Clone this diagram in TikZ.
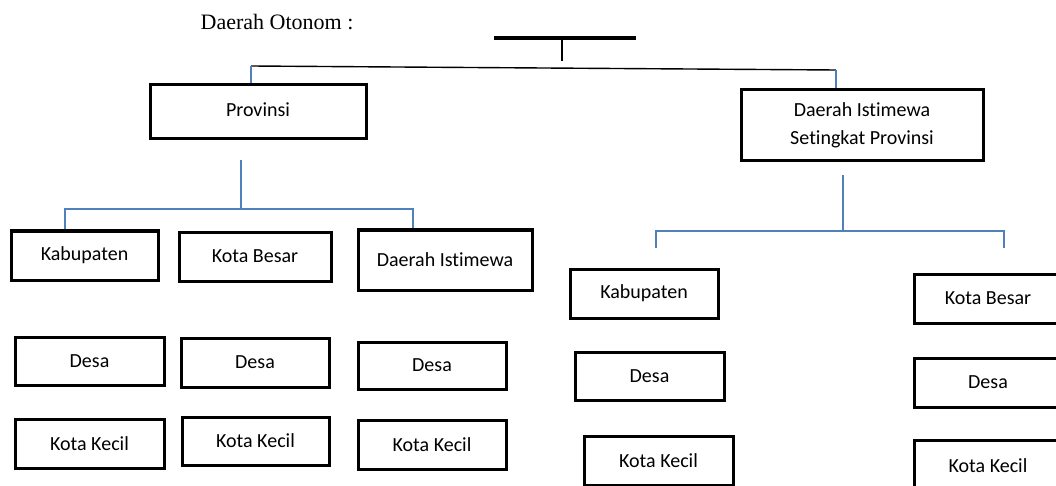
\documentclass[tikz,border=0pt]{standalone}
\usepackage{fontspec}
\setmainfont{Liberation Serif}
\newfontfamily\boxfont[Ligatures=NoCommon]{Carlito}
\usepackage{xcolor}
\definecolor{wordblue}{RGB}{79,129,189}
\tikzset{
	unit box/.style={draw,line width=3pt,inner sep=0pt,align=center,
		font=\boxfont\fontsize{20}{28}\selectfont},
	blue link/.style={draw=wordblue,line width=1.5pt},
	black link/.style={draw=black,line width=1.4pt}
}

\begin{document}
\begin{tikzpicture}[x=1pt,y=-1pt]
	\clip (0,0) rectangle (1056,486);
	\node [font=\fontsize{22}{26}\selectfont] (title) at (277,22) {Daerah Otonom :};
	% top bar
	\coordinate (barl) at (494,38);
	\coordinate (barr) at (636,38);
	\coordinate (barm) at (562,40);
	\coordinate (barf) at (562,61);
	\draw [line width=4pt] (barl) -- (barr);
	\draw [black link] (barm) -- (barf);
	% first level
	\node [unit box,minimum width=216,minimum height=54] (prov) at (258,112) {\raisebox{5pt}{Provinsi}};
	\node [unit box,minimum width=242,minimum height=71] (dis) at (862,125.5) {Daerah Istimewa\\Setingkat Provinsi};
	\coordinate (jl) at (251,66);
	\coordinate (jr) at (836,70);
	\draw [black link] (jl) -- (jr);
	\draw [blue link] (jl) -- (jl |- prov.north);
	\draw [blue link] (jr) -- (jr |- dis.north);
	% left branch
	\node [unit box,minimum width=147,minimum height=49] (kab1) at (84.5,255.5) {Kabupaten};
	\node [unit box,minimum width=152,minimum height=49] (kb1) at (255,256.5) {Kota Besar};
	\node [unit box,minimum width=174,minimum height=60] (di1) at (445,260) {Daerah Istimewa};
	\node [unit box,minimum width=149,minimum height=48] (desa1) at (89.5,361) {Desa};
	\node [unit box,minimum width=148,minimum height=49] (desa2) at (255,362.5) {Desa};
	\node [unit box,minimum width=148,minimum height=47] (desa3) at (432,365.5) {Desa};
	\node [unit box,minimum width=149,minimum height=49] (kk1) at (89.5,443.5) {Kota Kecil};
	\node [unit box,minimum width=147,minimum height=48] (kk2) at (255.5,441) {Kota Kecil};
	\node [unit box,minimum width=148,minimum height=49] (kk3) at (432,444.5) {Kota Kecil};
	\coordinate (ls) at (241,160);
	\coordinate (lm) at (241,209);
	\coordinate (la) at (65,209);
	\coordinate (lb) at (413,209);
	\draw [blue link] (ls) -- (lm);
	\draw [blue link] (la |- kab1.north) -- (la) -- (lb) -- (lb |- di1.north);
	% right branch
	\node [unit box,minimum width=148,minimum height=49] (kab2) at (644,293.5) {Kabupaten};
	\node [unit box,minimum width=148,minimum height=49] (kb2) at (988,298.5) {Kota Besar};
	\node [unit box,minimum width=149,minimum height=48] (desa4) at (649.5,376) {Desa};
	\node [unit box,minimum width=148,minimum height=49] (desa5) at (988,382.5) {Desa};
	\node [unit box,minimum width=149,minimum height=49] (kk4) at (658.5,460.5) {Kota Kecil};
	\node [unit box,minimum width=148,minimum height=52] (kk5) at (988,466) {Kota Kecil};
	\coordinate (rs) at (843,175);
	\coordinate (rm) at (843,231);
	\coordinate (ra) at (656,231);
	\coordinate (rb) at (1004,231);
	\coordinate (rae) at (656,248);
	\coordinate (rbe) at (1004,248);
	\draw [blue link] (rs) -- (rm);
	\draw [blue link] (rae) -- (ra) -- (rb) -- (rbe);
\end{tikzpicture}
\end{document}
